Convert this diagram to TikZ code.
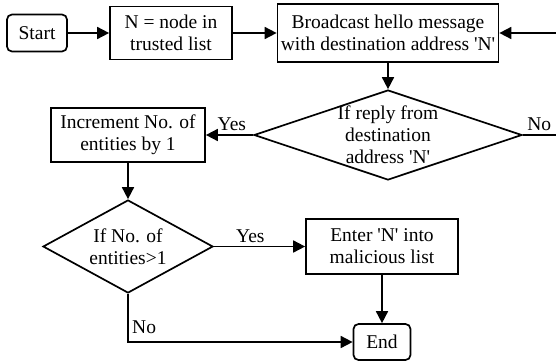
\documentclass[tikz,border=0pt]{standalone}
\usepackage{fontspec}
\setmainfont{Liberation Serif}
\usetikzlibrary{arrows.meta, shapes.geometric}

\begin{document}
\begin{tikzpicture}[x=1pt, y=-1pt,
		font=\rmfamily\fontsize{19.5}{22}\selectfont,
		block/.style={draw, line width=1.7pt, inner sep=2pt, align=center},
		term/.style={block, rounded corners=5pt},
		decision/.style={draw, line width=1.7pt, diamond, inner sep=0pt},
		flow/.style={line width=1.7pt, -{Triangle[length=12pt, width=12pt]}}]
	\useasboundingbox (0,0) rectangle (556,362);

	% top row
	\node[term, minimum width=60pt, minimum height=37pt] (start) at (37,33) {Start};
	\node[block, minimum width=122pt, minimum height=53pt] (trust) at (171,33) {N = node in\\trusted list};
	\node[block, minimum width=221pt, minimum height=58pt] (bcast) at (388,33) {Broadcast hello message\\with destination address \textquotesingle N\textquotesingle};

	% first check
	\node[decision, minimum width=268pt, minimum height=90pt] (reply) at (388,135) {};
	\node[align=center] (replytxt) at (reply.center) {If reply from\\destination\\address \textquotesingle N\textquotesingle};
	\node[block, minimum width=154pt, minimum height=54pt] (incr) at (128,135) {Increment No. of\\entities by 1};
	\coordinate (loop) at (564,135);

	% second check
	\node[decision, minimum width=170pt, minimum height=93pt] (ent) at (128,246.5) {};
	\node[align=center] (enttxt) at (ent.center) {If No. of\\entities>1};
	\node[block, minimum width=152pt, minimum height=55pt] (enter) at (382,246.5) {Enter \textquotesingle N\textquotesingle{} into\\malicious list};
	\node[term, minimum width=57pt, minimum height=36pt] (end) at (382,342) {End};

	\draw[flow] (start) -- (trust);
	\draw[flow] (trust) -- (bcast);
	\draw[flow] (bcast) -- (reply);
	\draw[flow] (reply.west) -- node[above, pos=0.45] (yes1) {Yes} (incr.east);
	\draw[flow] (reply.east) -- node[above, pos=0.4] (no1) {No} (loop) |- (bcast.east);
	\draw[flow] (incr) -- (ent);
	\draw[flow] (ent.east) -- node[above, pos=0.4] (yes2) {Yes} (enter.west);
	\draw[flow] (enter) -- (end);
	\draw[flow] (ent.south) |- node[right, pos=0.35] (no2) {No} (end.west);
\end{tikzpicture}
\end{document}
